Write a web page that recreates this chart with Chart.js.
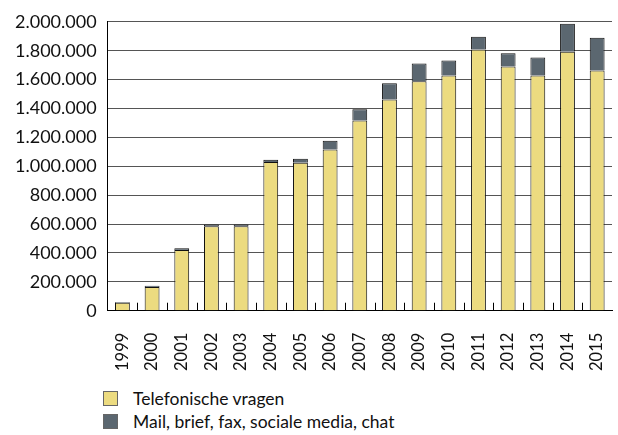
<!DOCTYPE html>
<html>
<head>
<meta charset="utf-8">
<script src="https://cdn.jsdelivr.net/npm/chart.js@4"></script>
<style>
  body { margin: 0; background: #fff; font-family: Lato, sans-serif; }
  #wrap { position: relative; width: 618px; height: 389px; }
  #legend { margin: -2px 0 0 103px; font-size: 17.5px; color: #111; }
  .item { display: flex; align-items: center; height: 23px; }
  .box { width: 13px; height: 13px; border: 1px solid #666; margin-right: 15px; }
</style>
</head>
<body>
<div id="wrap"><canvas id="c" width="618" height="389"></canvas></div>
<div id="legend"></div>
<script>
var years = ['1999','2000','2001','2002','2003','2004','2005','2006','2007','2008','2009','2010','2011','2012','2013','2014','2015'];
var telefonisch = [56000, 165000, 420000, 584000, 584000, 1030000, 1024000, 1116000, 1317000, 1462000, 1588000, 1629000, 1808000, 1691000, 1629000, 1792000, 1663000];
var overig = [5000, 8000, 12000, 13000, 13000, 15000, 28000, 60000, 78000, 112000, 123000, 103000, 89000, 91000, 124000, 194000, 227000];
var seriesNames = ['Telefonische vragen', 'Mail, brief, fax, sociale media, chat'];
var colors = ['#ecdb80', '#5b6770'];

function dots(v){
    return String(v).replace(/\B(?=(\d{3})+(?!\d))/g, '.');
}

// small tick marks between the categories, pointing up into the plot
var innerTicks = {
    id: 'innerTicks',
    afterDatasetsDraw: function(chart){
        var x = chart.scales.x, ctx = chart.ctx, bottom = chart.chartArea.bottom;
        ctx.save();
        ctx.strokeStyle = '#000';
        ctx.lineWidth = 1;
        for (var i = 1; i < years.length; i++) {
            var px = Math.round((x.getPixelForValue(i - 1) + x.getPixelForValue(i)) / 2) + 0.5;
            ctx.beginPath();
            ctx.moveTo(px, bottom);
            ctx.lineTo(px, bottom - 8);
            ctx.stroke();
        }
        ctx.restore();
    }
};

var chart = new Chart(document.getElementById('c'), {
    type: 'bar',
    data: {
        labels: years,
        datasets: [{
            label: seriesNames[0],
            data: telefonisch,
            backgroundColor: colors[0],
            borderColor: '#111',
            borderWidth: 1
        }, {
            label: seriesNames[1],
            data: overig,
            backgroundColor: colors[1],
            borderColor: '#111',
            borderWidth: 1
        }]
    },
    options: {
        responsive: false,
        animation: false,
        layout: { padding: { top: 10, right: 6, left: 4, bottom: 4 } },
        plugins: {
            legend: { display: false },
            tooltip: { enabled: false }
        },
        datasets: {
            bar: { categoryPercentage: 1, barPercentage: 0.5 }
        },
        scales: {
            x: {
                stacked: true,
                grid: { display: false },
                border: { display: true, color: '#000', width: 1 },
                afterFit: function(scale){ scale.paddingRight = 0; },
                ticks: {
                    color: '#111',
                    font: { family: 'Lato', size: 16.5, lineHeight: 1 },
                    minRotation: 90,
                    maxRotation: 90,
                    padding: 14
                }
            },
            y: {
                stacked: true,
                min: 0,
                max: 2000000,
                grid: { color: '#555', drawTicks: false },
                border: { display: true, color: '#000', width: 1 },
                ticks: {
                    stepSize: 200000,
                    color: '#111',
                    font: { family: 'Lato', size: 18 },
                    padding: 11,
                    callback: function(v){ return dots(v); }
                }
            }
        }
    },
    plugins: [innerTicks]
});

var legend = document.getElementById('legend');
chart.data.datasets.forEach(function(ds){
    var item = document.createElement('div');
    item.className = 'item';
    var box = document.createElement('span');
    box.className = 'box';
    box.style.background = ds.backgroundColor;
    var txt = document.createElement('span');
    txt.textContent = ds.label;
    item.appendChild(box);
    item.appendChild(txt);
    legend.appendChild(item);
});
</script>
</body>
</html>
